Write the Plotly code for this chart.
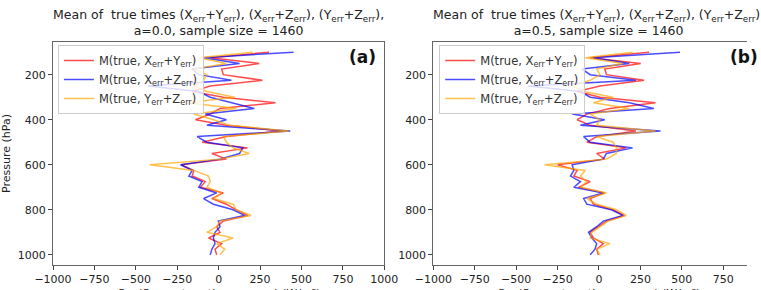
import plotly.graph_objects as go

pressure = [100 + 25 * k for k in range(37)]

red_a = [304, -51, 245, 18, 28, 264, -51, -160, 28, 343, 8, -51, -140, 47, 383, 47, -100, 175, -41, 47,
         -229, -150, -160, -81, -110, 28, -41, 47, 107, 175, 28, -12, 8, -61, 18, -22, -12]
blue_a = [452, -91, 126, -160, -120, 77, -426, -120, -51, 87, 215, -81, 47, -71, 432, -130, -71, 146, 126, 8,
          -229, -160, -180, -100, -120, -12, -91, -32, 87, 156, -2, 8, -22, -32, -22, -41, -51]
orange_a = [205, -120, 47, -150, -71, -91, -150, -71, 97, -189, 107, -150, -32, 67, 422, 28, 47, 87, 185, 8,
            -416, -150, -61, -51, -71, 18, -32, 87, 107, 195, 8, -12, -71, 87, -12, 37, 8]

red_b = [302, -53, 252, 35, 45, 272, 6, -132, 6, 341, 65, -73, -132, -53, 223, -14, -73, 164, -14, 35,
         -250, -132, -152, -53, -122, 35, -53, -34, 85, 154, 45, -4, -53, -34, 26, -14, -4]
blue_b = [489, -34, 183, -103, -53, 223, -428, -112, -53, 183, 331, -162, 35, -112, 371, -93, -53, 203, 45, 26,
          -162, -152, -172, -112, -152, 26, -93, -73, 75, 144, 26, -14, -63, -43, -14, -24, -53]
orange_b = [203, -83, 144, -14, 6, -53, -162, -93, 85, -34, 183, -53, 6, -14, 341, -14, 85, 105, 105, 45,
            -329, -83, -112, -73, -112, 45, -73, -14, 105, 164, 55, 6, -43, -53, 65, -14, 6]

names = ["M(true, X<sub>err</sub>+Y<sub>err</sub>)",
         "M(true, X<sub>err</sub>+Z<sub>err</sub>)",
         "M(true, Y<sub>err</sub>+Z<sub>err</sub>)"]
colors = ["rgba(255,0,0,0.7)", "rgba(0,0,255,0.7)", "rgba(255,165,0,0.7)"]
xticks = [-1000, -750, -500, -250, 0, 250, 500, 750, 1000]
yticks = [200, 400, 600, 800, 1000]
titles = ["Mean of  true times (X<sub>err</sub>+Y<sub>err</sub>), (X<sub>err</sub>+Z<sub>err</sub>), (Y<sub>err</sub>+Z<sub>err</sub>),<br>a=0.0, sample size = 1460",
          "Mean of  true times (X<sub>err</sub>+Y<sub>err</sub>), (X<sub>err</sub>+Z<sub>err</sub>), (Y<sub>err</sub>+Z<sub>err</sub>),<br>a=0.5, sample size = 1460"]

W, H = 761, 290
L, T, B = 53, 42, 25
pw = W - L
ph = H - T - B

def px(x):
    return (x - L) / pw

def py(y):
    return 1 - (y - T) / ph

fig = go.Figure()
for vals, name, col in zip([red_a, blue_a, orange_a], names, colors):
    fig.add_trace(go.Scatter(x=vals, y=pressure, mode="lines", name=name,
                             line=dict(color=col, width=1.5), xaxis="x", yaxis="y", legend="legend"))
for vals, name, col in zip([red_b, blue_b, orange_b], names, colors):
    fig.add_trace(go.Scatter(x=vals, y=pressure, mode="lines", name=name,
                             line=dict(color=col, width=1.5), xaxis="x2", yaxis="y2", legend="legend2"))

font = dict(family="DejaVu Sans", size=11, color="#222")
axcommon = dict(showline=True, linecolor="#666", linewidth=1, ticks="outside", ticklen=4,
                tickcolor="#444", showgrid=False, zeroline=False, tickfont=font)
x2max = -1000 + (W - 441) / 0.169

legfont = dict(family="DejaVu Sans", size=11.5, color="#333")
fig.update_layout(
    width=W, height=H,
    margin=dict(l=L, r=0, t=T, b=B),
    plot_bgcolor="white", paper_bgcolor="white",
    font=font,
    xaxis=dict(domain=[0, px(391)], range=[-1000, 1000], tickvals=xticks, mirror=True, **axcommon),
    yaxis=dict(range=[1045, 55], tickvals=yticks, mirror=True, anchor="x",
               title=dict(text="Pressure (hPa)", font=dict(family="DejaVu Sans", size=11, color="#222"), standoff=6),
               **axcommon),
    xaxis2=dict(domain=[px(441), 1], range=[-1000, x2max], tickvals=xticks,
                mirror=True, anchor="y2", **axcommon),
    yaxis2=dict(range=[1045, 55], tickvals=yticks, anchor="x2", **axcommon),
    legend=dict(x=px(58), y=py(45), xanchor="left", yanchor="top",
                bgcolor="rgba(255,255,255,0.8)", bordercolor="#ccc", borderwidth=1,
                font=legfont, tracegroupgap=0, itemwidth=30),
    legend2=dict(x=px(447), y=py(45), xanchor="left", yanchor="top",
                 bgcolor="rgba(255,255,255,0.8)", bordercolor="#ccc", borderwidth=1,
                 font=legfont, tracegroupgap=0, itemwidth=30),
    showlegend=True,
)

tfont = dict(family="DejaVu Sans", size=12.5, color="#222")
annots = [
    dict(text=titles[0], x=px(222), y=py(40), xref="paper", yref="paper", xanchor="center", yanchor="bottom",
         showarrow=False, font=tfont),
    dict(text=titles[1], x=px(610), y=py(40), xref="paper", yref="paper", xanchor="center", yanchor="bottom",
         showarrow=False, font=tfont),
    dict(text="<b>(a)</b>", x=px(385), y=py(57), xref="paper", yref="paper", xanchor="right", yanchor="middle",
         showarrow=False, font=dict(family="DejaVu Sans", size=17, color="#111")),
    dict(text="<b>(b)</b>", x=px(742), y=py(57), xref="paper", yref="paper",
         xanchor="left", yanchor="middle", showarrow=False,
         font=dict(family="DejaVu Sans", size=17, color="#111")),
    dict(text="Cov(fluxes, true times errors) (W/m²)", x=px(222), y=py(285), xref="paper", yref="paper",
         xanchor="center", yanchor="top", showarrow=False, font=dict(family="DejaVu Sans", size=11, color="#222")),
    dict(text="Cov(fluxes, true times errors) (W/m²)", x=px(610), y=py(285), xref="paper", yref="paper",
         xanchor="center", yanchor="top", showarrow=False, font=dict(family="DejaVu Sans", size=11, color="#222")),
]
fig.update_layout(annotations=annots)

fig.write_html("out.html")
